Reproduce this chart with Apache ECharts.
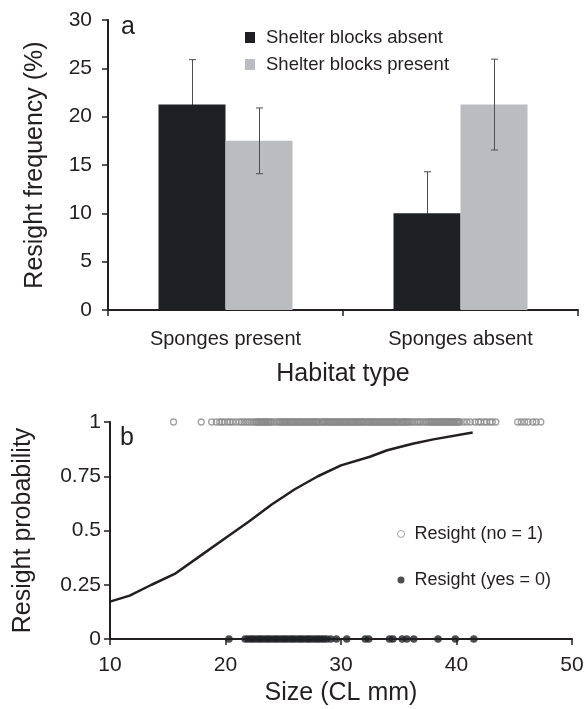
<!DOCTYPE html>
<html><head><meta charset="utf-8">
<script src="https://cdn.jsdelivr.net/npm/echarts@6/dist/echarts.min.js"></script>
<style>html,body{margin:0;padding:0;background:#fff}#c{width:588px;height:709px}</style>
</head><body><div id="c"></div>
<script>
// ---- Panel a data ----
const habitats = ['Sponges present', 'Sponges absent'];
const seriesNamesA = ['Shelter blocks absent', 'Shelter blocks present'];
const blocksAbsent = [21.25, 10.0];
const blocksAbsentErr = [4.65, 4.3];
const blocksPresent = [17.5, 21.25];
const blocksPresentErr = [3.4, 4.7];

// ---- Panel b data ----
const seriesNamesB = ['Resight (no = 1)', 'Resight (yes = 0)'];
const curveSize = [10, 11.7, 13.6, 15.6, 18.0, 20.0, 22.0, 24.0, 26.0, 28.0, 30.0, 32.5, 34.0, 36.2, 38.0, 41.4];
const curveProb = [0.172, 0.20, 0.25, 0.30, 0.39, 0.465, 0.54, 0.62, 0.69, 0.75, 0.80, 0.84, 0.87, 0.90, 0.92, 0.952];
const notResightedSize = [15.5, 17.9, 18.8, 19.2, 19.5, 19.7, 19.9, 20.2, 20.4, 20.6, 20.9, 21.2, 21.4, 21.6, 21.8,
  22.0, 22.2, 22.4, 22.6, 22.7, 22.8, 22.9, 23.0, 23.1, 23.2, 23.3, 23.4, 23.5, 23.6, 23.7, 23.8, 23.9, 24.0,
  24.2, 24.45, 24.6, 24.7, 24.8, 24.9, 25.0, 25.1, 25.2, 25.3, 25.4, 25.5, 25.6, 25.7, 25.8, 25.9, 26.0,
  26.1, 26.2, 26.3, 26.4, 26.5, 26.6, 26.7, 26.8, 26.9, 27.0, 27.1, 27.2, 27.3, 27.4, 27.5, 27.6, 27.7,
  27.8, 27.9, 28.0, 28.1, 28.3, 28.4, 28.5, 28.6, 28.7, 28.8, 28.9, 29.0, 29.1, 29.2, 29.3, 29.4, 29.5,
  29.6, 29.7, 29.8, 29.9, 30.0, 30.1, 30.2, 30.3, 30.4, 30.5, 30.6, 30.7, 30.8, 30.9, 31.0, 31.1, 31.2,
  31.3, 31.4, 31.5, 31.6, 31.7, 31.8, 31.9, 32.0, 32.15, 32.3, 32.4, 32.5, 32.6, 32.7, 32.8, 32.9, 33.0,
  33.1, 33.2, 33.3, 33.4, 33.5, 33.6, 33.7, 33.8, 33.9, 34.0, 34.1, 34.2, 34.3, 34.4, 34.5, 34.6, 34.7,
  34.8, 34.9, 35.05, 35.2, 35.3, 35.4, 35.5, 35.6, 35.7, 35.8, 35.9, 36.05, 36.2, 36.4, 36.6, 36.75, 36.9,
  37.1, 37.3, 37.45, 37.6, 37.7, 37.8, 37.9, 38.0, 38.1, 38.2, 38.3, 38.4, 38.5, 38.6, 38.7, 38.8, 38.9,
  39.0, 39.1, 39.2, 39.3, 39.4, 39.5, 39.6, 39.7, 39.8, 39.9, 40.0, 40.1, 40.2, 40.3, 40.6, 40.9, 41.2,
  41.6, 41.9, 42.1, 42.4, 42.6, 42.9, 43.1, 43.4, 45.3, 45.6, 45.9, 46.2, 46.6, 46.9, 47.3];
const resightedSize = [20.3, 21.7, 21.95, 22.2, 22.4, 22.65, 22.9, 23.1, 23.35, 23.6, 23.8, 24.05, 24.3, 24.5,
  24.75, 25.0, 25.2, 25.45, 25.7, 25.9, 26.15, 26.4, 26.6, 26.85, 27.1, 27.3, 27.55, 27.8, 28.0, 28.25, 28.5,
  28.75, 29.1, 29.6, 30.5, 32.1, 32.4, 34.2, 34.5, 35.3, 35.7, 36.3, 38.4, 39.9, 41.5];

const INK = '#231f20';
const FONT = '"Liberation Sans", Arial, Helvetica, sans-serif';

function errItem(offset) {
  return function (params, api) {
    const c = api.value(0), v = api.value(1), e = api.value(2);
    const hi = api.coord([c, v + e]);
    const lo = api.coord([c, v - e]);
    const x = Math.round(hi[0] + offset) + 0.5;
    const cap = 3.5;
    const style = { stroke: '#4d4d4d', lineWidth: 1 };
    return { type: 'group', children: [
      { type: 'line', shape: { x1: x, y1: hi[1], x2: x, y2: lo[1] }, style: style },
      { type: 'line', shape: { x1: x - cap, y1: hi[1], x2: x + cap, y2: hi[1] }, style: style },
      { type: 'line', shape: { x1: x - cap, y1: lo[1], x2: x + cap, y2: lo[1] }, style: style }
    ] };
  };
}

const axisLine = { show: true, lineStyle: { color: INK, width: 2 } };
const axisTick = { show: true, length: 6, lineStyle: { color: INK, width: 1.5 } };
const tickStyle = { color: INK, fontSize: 21, fontFamily: FONT };
const catStyle = { color: INK, fontSize: 20, fontFamily: FONT };
const nameStyle = { color: INK, fontSize: 25, fontFamily: FONT };

const chart = echarts.init(document.getElementById('c'), null, { renderer: 'canvas' });
chart.setOption({
  animation: false,
  backgroundColor: '#fff',
  textStyle: { fontFamily: FONT },
  grid: [
    { left: 108, top: 20, width: 470, height: 290 },
    { left: 110, top: 422, width: 462, height: 217 }
  ],
  legend: [
    { data: seriesNamesA, orient: 'vertical', left: 245, top: 28, padding: 0,
      itemWidth: 10, itemHeight: 11, itemGap: 8, icon: 'rect', selectedMode: false,
      textStyle: { color: INK, fontSize: 18.5, lineHeight: 18, fontFamily: FONT, padding: [0, 0, 0, 6] } },
    { data: [
        { name: seriesNamesB[0], icon: 'circle', itemStyle: { color: '#fff', borderColor: '#8c8c8c', borderWidth: 1 } },
        { name: seriesNamesB[1], icon: 'circle' }
      ],
      orient: 'vertical', left: 397, top: 525, padding: 0,
      itemWidth: 7, itemHeight: 7, itemGap: 28, selectedMode: false,
      textStyle: { color: INK, fontSize: 18, lineHeight: 18, fontFamily: FONT, padding: [0, 0, 0, 5] } }
  ],
  xAxis: [
    { type: 'category', gridIndex: 0, data: habitats, axisLine: axisLine, axisTick: axisTick,
      axisLabel: Object.assign({ margin: 19 }, catStyle), splitLine: { show: false },
      name: 'Habitat type', nameLocation: 'middle', nameGap: 52, nameTextStyle: nameStyle },
    { type: 'value', gridIndex: 1, min: 10, max: 50, interval: 10, axisLine: axisLine, axisTick: axisTick,
      axisLabel: Object.assign({ margin: 16 }, tickStyle), splitLine: { show: false },
      name: 'Size (CL mm)', nameLocation: 'middle', nameGap: 42, nameTextStyle: nameStyle }
  ],
  yAxis: [
    { type: 'value', gridIndex: 0, min: 0, max: 30, interval: 5, axisLine: axisLine, axisTick: axisTick,
      axisLabel: Object.assign({ margin: 16 }, tickStyle), splitLine: { show: false },
      name: 'Resight frequency (%)', nameLocation: 'middle', nameRotate: 90, nameGap: 60, nameTextStyle: nameStyle },
    { type: 'value', gridIndex: 1, min: 0, max: 1, interval: 0.25, axisLine: axisLine, axisTick: axisTick,
      axisLabel: Object.assign({ margin: 9 }, tickStyle), splitLine: { show: false },
      name: 'Resight probability', nameLocation: 'middle', nameRotate: 90, nameGap: 74, nameTextStyle: nameStyle }
  ],
  graphic: [
    { type: 'text', x: 121, y: 27, style: { text: 'a', font: '25px ' + FONT, fill: INK, verticalAlign: 'middle' } },
    { type: 'text', x: 120, y: 438, style: { text: 'b', font: '25px ' + FONT, fill: INK, verticalAlign: 'middle' } }
  ],
  series: [
    { name: seriesNamesA[0], type: 'bar', xAxisIndex: 0, yAxisIndex: 0, data: blocksAbsent,
      barWidth: 67, barGap: '0%', z: 2, itemStyle: { color: '#1f2023' } },
    { name: seriesNamesA[1], type: 'bar', xAxisIndex: 0, yAxisIndex: 0, data: blocksPresent,
      barWidth: 67, barGap: '0%', z: 2, itemStyle: { color: '#bbbcbf' } },
    { type: 'custom', xAxisIndex: 0, yAxisIndex: 0, z: 1, renderItem: errItem(-33.5),
      data: blocksAbsent.map((v, i) => [i, v, blocksAbsentErr[i]]) },
    { type: 'custom', xAxisIndex: 0, yAxisIndex: 0, z: 3, renderItem: errItem(33.5),
      data: blocksPresent.map((v, i) => [i, v, blocksPresentErr[i]]) },
    { name: 'fit', type: 'line', xAxisIndex: 1, yAxisIndex: 1, symbol: 'none', smooth: false,
      lineStyle: { color: INK, width: 2.5 }, z: 3,
      data: curveSize.map((x, i) => [x, curveProb[i]]) },
    { name: seriesNamesB[0], type: 'scatter', xAxisIndex: 1, yAxisIndex: 1, symbol: 'circle', symbolSize: 6,
      itemStyle: { color: 'rgba(255,255,255,0)', borderColor: '#8a8a8a', borderWidth: 1.3 }, z: 4,
      data: notResightedSize.map(x => [x, 1]) },
    { name: seriesNamesB[1], type: 'scatter', xAxisIndex: 1, yAxisIndex: 1, symbol: 'circle', symbolSize: 7.5,
      itemStyle: { color: '#1f2023' }, z: 4,
      data: resightedSize.map(x => [x, 0]) }
  ]
});
</script>
</body></html>
